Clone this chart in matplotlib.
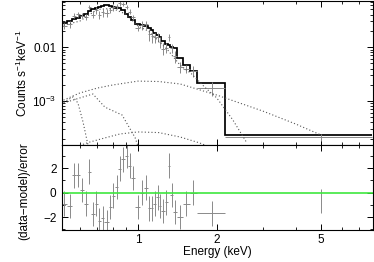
import matplotlib
matplotlib.use("Agg")
import matplotlib.pyplot as plt
import numpy as np
from matplotlib.ticker import FixedLocator, FixedFormatter, NullFormatter, LogLocator

plt.rcParams["font.family"] = ["Liberation Sans", "DejaVu Sans"]
plt.rcParams["mathtext.fontset"] = "custom"
plt.rcParams["mathtext.rm"] = "Liberation Sans"
plt.rcParams["mathtext.it"] = "Liberation Sans:italic"

# spectral bins (keV)
bin_edges = [0.505, 0.536, 0.562, 0.582, 0.600, 0.620, 0.642, 0.664, 0.685, 0.704,
             0.722, 0.745, 0.772, 0.796, 0.817, 0.842, 0.865, 0.892, 0.920, 0.944,
             0.978, 1.018, 1.054, 1.092, 1.121, 1.146, 1.176, 1.202, 1.229, 1.268,
             1.301, 1.330, 1.366, 1.409, 1.485, 1.579, 1.680, 2.148, 7.85]

# observed count rate and 1-sigma errors (counts/s/keV)
rate = [0.0248, 0.0263, 0.0385, 0.0404, 0.0384, 0.0364, 0.0559, 0.0400, 0.0480, 0.0398,
        0.0439, 0.0427, 0.0491, 0.0543, 0.0567, 0.0652, 0.0635, 0.0550, 0.0455, 0.0362,
        0.0229, 0.0255, 0.0263, 0.0172, 0.0158, 0.0153, 0.0155, 0.0123, 0.0094, 0.0098,
        0.0152, 0.0096, 0.0068, 0.0043, 0.0040, 0.0036, 0.00175, 0.000215]
rate_err = [0.0033, 0.0036, 0.0040, 0.0041, 0.0045, 0.0049, 0.0056, 0.0061, 0.0065, 0.0066,
            0.0070, 0.0072, 0.0069, 0.0067, 0.0065, 0.0063, 0.0058, 0.0049, 0.0043, 0.0038,
            0.0032, 0.0046, 0.0044, 0.0041, 0.0037, 0.0033, 0.0030, 0.0028, 0.0023, 0.0021,
            0.0020, 0.0018, 0.0017, 0.0010, 0.0007, 0.0008, 0.0005, 0.00003]

# folded total model per bin
model = [0.0278, 0.0303, 0.0330, 0.0344, 0.0375, 0.0408, 0.0464, 0.0506, 0.0538, 0.0550,
         0.0587, 0.0600, 0.0574, 0.0560, 0.0538, 0.0528, 0.0484, 0.0408, 0.0360, 0.0316,
         0.0267, 0.0255, 0.0245, 0.0225, 0.0206, 0.0182, 0.0167, 0.0153, 0.0129, 0.0114,
         0.0109, 0.0100, 0.0096, 0.00625, 0.00464, 0.0036, 0.00216, 0.000234]

# residuals (data-model)/error
resid = [-0.9, -1.1, 1.4, 1.45, 0.2, -0.9, 1.7, -1.75, -0.9, -2.3,
         -2.1, -2.4, -1.2, -0.25, 0.45, 1.95, 2.7, 3.0, 2.2, 1.2,
         -1.2, 0.0, 0.4, -1.3, -1.3, -0.9, -0.4, -1.1, -1.5, -0.8,
         2.2, -0.2, -1.6, -2.0, -0.9, 0.0, -1.7, -0.7]

# additive model components
soft_energy = [0.52, 0.6, 0.7, 0.8, 0.9, 1.0, 1.1, 1.2, 1.3, 1.45, 1.6, 1.8, 2.0, 2.3, 2.6]
soft_comp = [0.0255, 0.0303, 0.050, 0.052, 0.0408, 0.0245, 0.0196, 0.0129, 0.0088,
             0.0046, 0.0032, 0.0018, 0.00114, 0.00045, 0.00017]

broad_energy = [0.52, 0.6, 0.7, 0.8, 1.0, 1.2, 1.45, 2.0, 3.0, 4.0, 5.0]
broad_comp = [1.04e-3, 1.41e-3, 1.74e-3, 1.98e-3, 2.34e-3, 2.3e-3, 2.07e-3,
              1.29e-3, 6.5e-4, 3.75e-4, 2.34e-4]

line1_energy = [0.52, 0.565, 0.59, 0.617, 0.645, 0.66]
line1_comp = [9.5e-4, 1.19e-3, 9.2e-4, 4.1e-4, 1.5e-4, 1.1e-4]

line2_energy = [0.52, 0.6, 0.673, 0.748, 0.87, 0.975, 1.02]
line2_comp = [9.2e-4, 1.14e-3, 1.35e-3, 7.7e-4, 5.5e-4, 2.1e-4, 1.1e-4]

hot_energy = [0.6, 0.656, 0.748, 0.854, 1.0, 1.2, 1.45, 1.72, 1.88]
hot_comp = [1.5e-4, 1.74e-4, 2.07e-4, 2.45e-4, 2.67e-4, 2.6e-4, 2.15e-4, 1.67e-4, 1.4e-4]

edges = np.array(bin_edges)
centers = 0.5 * (edges[:-1] + edges[1:])
half_w = 0.5 * (edges[1:] - edges[:-1])

gray = "#8a8a8a"
fs = 8.5
fig = plt.figure(figsize=(3.74, 2.62), dpi=100)
ax1 = fig.add_axes([0.1658, 0.4466, 0.831, 0.5514])
ax2 = fig.add_axes([0.1658, 0.1221, 0.831, 0.3245], sharex=ax1)

ax1.errorbar(centers, rate, xerr=half_w, yerr=rate_err, fmt="none",
             ecolor=gray, elinewidth=0.7, capsize=0)
ax1.stairs(model, edges, color="black", lw=1.25, baseline=None)
for e, c in [(soft_energy, soft_comp), (broad_energy, broad_comp),
             (line1_energy, line1_comp), (line2_energy, line2_comp),
             (hot_energy, hot_comp)]:
    ax1.plot(e, c, ls=(0, (1, 2)), color="#555555", lw=0.8)

ax1.set_xscale("log")
ax1.set_yscale("log")
ax1.set_xlim(0.513, 7.88)
ax1.set_ylim(1.53e-4, 0.073)
ax1.yaxis.set_major_locator(FixedLocator([1e-3, 1e-2]))
ax1.yaxis.set_major_formatter(FixedFormatter(["$10^{-3}$", "0.01"]))
ax1.yaxis.set_minor_locator(LogLocator(base=10, subs=np.arange(2, 10)))
ax1.yaxis.set_minor_formatter(NullFormatter())
ax1.set_ylabel("Counts s$^{-1}$keV$^{-1}$", fontsize=fs)
ax1.yaxis.set_label_coords(-0.103, 0.5)

res_xerr = half_w.copy()
res_xerr[-1] = 0
ax2.errorbar(centers, resid, xerr=res_xerr, yerr=1.0, fmt="none",
             ecolor=gray, elinewidth=0.7, capsize=0)
ax2.axhline(0, color="#3ee83e", lw=1.2)
ax2.set_ylim(-3.06, 3.88)
ax2.yaxis.set_major_locator(FixedLocator([-2, 0, 2]))
ax2.yaxis.set_minor_locator(FixedLocator([-3, -1, 1, 3]))
ax2.set_ylabel("(data\u2212model)/error", fontsize=fs)
ax2.yaxis.set_label_coords(-0.103, 0.46)
ax2.set_xlabel("Energy (keV)", fontsize=fs, labelpad=0)

ax2.xaxis.set_major_locator(FixedLocator([1, 2, 5]))
ax2.xaxis.set_major_formatter(FixedFormatter(["1", "2", "5"]))
ax2.xaxis.set_minor_locator(FixedLocator([0.6, 0.7, 0.8, 0.9, 3, 4, 6, 7]))
ax2.xaxis.set_minor_formatter(NullFormatter())
ax1.tick_params(axis="x", which="both", labelbottom=False)

for ax in (ax1, ax2):
    ax.tick_params(which="both", direction="in", top=True, right=True,
                   labelsize=fs, pad=4)
    ax.tick_params(which="major", length=4, width=0.7)
    ax.tick_params(which="minor", length=2.5, width=0.6)
    for sp in ax.spines.values():
        sp.set_linewidth(0.8)
ax2.tick_params(axis="x", which="both", pad=3)

fig.savefig("out.png", dpi=100)
